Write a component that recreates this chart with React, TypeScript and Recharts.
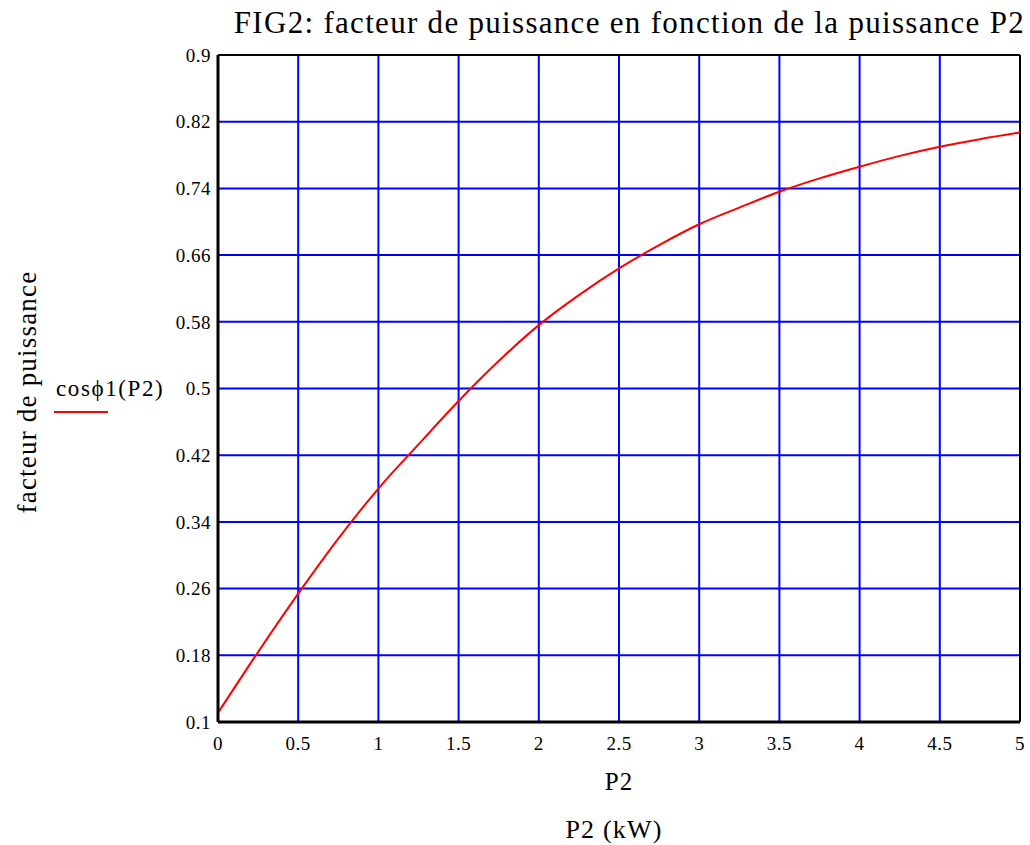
import { CartesianGrid, Line, LineChart, ReferenceLine, XAxis, YAxis } from 'recharts';

// P2 (kW) sampled every 0.25
const p2 = [0, 0.25, 0.5, 0.75, 1, 1.25, 1.5, 1.75, 2, 2.25, 2.5, 2.75, 3, 3.25, 3.5, 3.75, 4, 4.25, 4.5, 4.75, 5];
// cosφ1(P2)
const cosPhi = [
  0.111, 0.184, 0.254, 0.32, 0.38, 0.433, 0.485, 0.533, 0.576, 0.612, 0.644,
  0.672, 0.697, 0.717, 0.736, 0.752, 0.766, 0.779, 0.79, 0.799, 0.807,
];

const xTicks = [0, 0.5, 1, 1.5, 2, 2.5, 3, 3.5, 4, 4.5, 5];
const yTicks = [0.1, 0.18, 0.26, 0.34, 0.42, 0.5, 0.58, 0.66, 0.74, 0.82, 0.9];
const yTickLabels = ['0.1', '0.18', '0.26', '0.34', '0.42', '0.5', '0.58', '0.66', '0.74', '0.82', '0.9'];

const title = 'FIG2: facteur de puissance en fonction de la puissance P2';
const seriesName = 'cosϕ1(P2)';

const data = p2.map((x, i) => ({ p2: x, cos: cosPhi[i] }));

const font = '"Liberation Serif", "Times New Roman", serif';
const tickStyle = { fontSize: 19, fill: '#000', fontFamily: font, letterSpacing: 0.5 };

export default function App() {
  return (
    <div style={{ position: 'absolute', left: 0, top: 0, width: 1030, height: 845, background: '#fff', fontFamily: font }}>
      <LineChart
        width={1030}
        height={845}
        data={data}
        margin={{ left: 178, right: 10, top: 55, bottom: 93 }}
      >
        <CartesianGrid stroke="#0000ff" strokeWidth={2} />
        <XAxis
          dataKey="p2"
          type="number"
          domain={[0, 5]}
          ticks={xTicks}
          interval={0}
          tick={tickStyle}
          tickLine={false}
          axisLine={{ stroke: '#000', strokeWidth: 3 }}
          height={30}
          tickMargin={9}
          label={{ value: 'P2', position: 'insideBottom', offset: -38, style: { fontSize: 25, fill: '#000', fontFamily: font, letterSpacing: 1 } }}
        />
        <YAxis
          type="number"
          domain={[0.1, 0.9]}
          ticks={yTicks}
          interval={0}
          tick={tickStyle}
          tickLine={false}
          tickFormatter={(v: number) => yTickLabels[yTicks.indexOf(v)] ?? String(v)}
          axisLine={{ stroke: '#000', strokeWidth: 3 }}
          width={40}
          tickMargin={1}
        />
        <ReferenceLine y={0.9} stroke="#000" strokeWidth={2} />
        <ReferenceLine x={5} stroke="#000" strokeWidth={2} />
        <Line
          type="monotone"
          dataKey="cos"
          stroke="#ff0000"
          strokeWidth={2}
          dot={false}
          isAnimationActive={false}
        />
      </LineChart>

      <div style={{ position: 'absolute', right: 5, top: 5, fontSize: 31, letterSpacing: 1.3, whiteSpace: 'nowrap' }}>{title}</div>

      <div
        style={{
          position: 'absolute',
          left: 27,
          top: 392,
          transform: 'translate(-50%, -50%) rotate(-90deg)',
          fontSize: 27,
          letterSpacing: 1.2,
          whiteSpace: 'nowrap',
        }}
      >
        facteur de puissance
      </div>

      <div style={{ position: 'absolute', left: 56, top: 376, fontSize: 23, letterSpacing: 1.6, whiteSpace: 'nowrap' }}>{seriesName}</div>
      <div style={{ position: 'absolute', left: 54, top: 411, width: 54, height: 2, background: '#ff0000' }} />

      <div style={{ position: 'absolute', left: 614, top: 830, transform: 'translate(-50%, -50%)', fontSize: 26, letterSpacing: 1.2, whiteSpace: 'nowrap' }}>
        P2 (kW)
      </div>
    </div>
  );
}
